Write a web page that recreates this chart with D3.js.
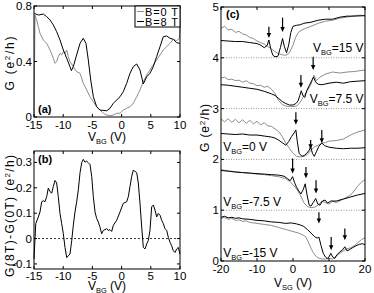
<!DOCTYPE html>
<html>
<head>
<meta charset="utf-8">
<script src="https://cdn.jsdelivr.net/npm/d3@7"></script>
<style>
  body { margin: 0; background: #fff; }
  svg { display: block; font-family: "Liberation Sans", Arial, sans-serif; }
  .tick-label { font-size: 11.5px; }
  .axis-label { font-size: 12px; }
</style>
</head>
<body>
<div id="chart-root"></div>
<script>
// ---- panel (a): G vs V_BG ----
var aTicksX = [-15, -10, -5, 0, 5, 10];
var aTicksY = [0, 0.4, 0.8];
var aGray = [[-15,0],[-14.83,0.735],[-14.54,0.70],[-14.26,0.651],[-13.97,0.603],[-13.4,0.555],[-12.83,0.531],
  [-12.26,0.483],[-11.69,0.423],[-11.4,0.387],[-11.12,0.399],[-10.84,0.435],[-10.55,0.459],[-10.26,0.447],
  [-9.98,0.471],[-9.69,0.459],[-9.4,0.483],[-9.13,0.435],[-8.84,0.399],[-8.27,0.363],[-7.7,0.327],[-7.12,0.315],
  [-6.83,0.279],[-6.56,0.243],[-5.98,0.195],[-5.41,0.146],[-4.84,0.11],[-4.27,0.074],[-3.7,0.05],[-3.13,0.027],
  [-2.55,0.014],[-1.99,0.01],[-1.42,0.014],[-0.84,0.027],[-0.27,0.027],[0.29,0.05],[0.87,0.063],[1.44,0.074],
  [2.0,0.099],[2.59,0.146],[3.15,0.195],[3.72,0.254],[4.3,0.303],[4.86,0.339],[5.43,0.375],[6.0,0.411],
  [6.58,0.447],[7.14,0.483],[7.72,0.507],[8.3,0.531],[8.85,0.56],[9.43,0.55],[9.9,0.567],[10,0.65]];
var aBlack = [[-14.95,0.747],[-14.26,0.735],[-13.4,0.742],[-12.83,0.723],[-12.26,0.70],[-11.69,0.663],
  [-11.12,0.615],[-10.55,0.555],[-9.98,0.483],[-9.4,0.423],[-8.84,0.363],[-8.6,0.334],[-8.27,0.363],
  [-7.7,0.447],[-7.12,0.531],[-6.56,0.567],[-6.1,0.531],[-5.7,0.411],[-5.29,0.267],[-4.84,0.146],
  [-4.27,0.074],[-3.7,0.05],[-2.55,0.045],[-1.99,0.063],[-1.42,0.099],[-0.27,0.146],[0.29,0.182],
  [0.87,0.243],[1.44,0.315],[2.0,0.363],[2.59,0.382],[3.15,0.339],[3.72,0.238],[4.3,0.29],[4.86,0.315],
  [5.43,0.363],[6.0,0.435],[6.58,0.507],[7.14,0.579],[7.72,0.584],[8.3,0.567],[8.85,0.56],[9.43,0.535],[10,0.531]];
var legendNames = ["B=0 T", "B=8 T"];

// ---- panel (b): G(8T)-G(0T) ----
var bTicksY = [-0.1, 0, 0.1, 0.2, 0.3];
var bDiff = [[-15,-0.081],[-14.7,0.059],[-14.26,0.085],[-13.97,0.105],[-13.68,0.145],[-13.4,0.149],[-13.12,0.145],
  [-12.83,0.165],[-12.55,0.199],[-12.26,0.185],[-11.97,0.179],[-11.69,0.205],[-11.4,0.229],[-11.12,0.219],
  [-10.84,0.165],[-10.55,0.099],[-10.26,0.059],[-9.98,0.019],[-9.69,-0.035],[-9.4,-0.075],[-9.13,-0.068],
  [-8.84,-0.061],[-8.54,-0.008],[-8.27,0.052],[-7.98,0.105],[-7.69,0.145],[-7.41,0.192],[-7.12,0.259],
  [-6.83,0.299],[-6.56,0.312],[-6.27,0.301],[-5.98,0.305],[-5.7,0.299],[-5.41,0.292],[-5.12,0.245],
  [-4.84,0.165],[-4.55,0.105],[-4.27,0.079],[-3.99,0.065],[-3.7,0.045],[-3.41,0.019],[-3.13,0.032],
  [-2.55,0.039],[-2.28,0.032],[-1.99,0.035],[-1.7,0.028],[-1.42,0.052],[-0.84,0.072],[-0.27,0.105],
  [0.29,0.139],[0.87,0.145],[1.15,0.165],[1.44,0.205],[1.73,0.245],[2.0,0.269],[2.29,0.265],[2.59,0.259],
  [2.86,0.219],[3.15,0.139],[3.44,0.045],[3.72,-0.035],[4.01,-0.041],[4.3,-0.021],[4.57,-0.008],
  [4.86,0.032],[5.15,0.125],[5.43,0.132],[5.72,0.112],[6.01,0.085],[6.28,0.099],[6.58,0.092],[6.86,0.072],
  [7.14,0.059],[7.43,0.039],[7.72,0.032],[8.0,0.005],[8.3,-0.015],[8.57,-0.028],[8.85,-0.048],
  [9.14,-0.055],[9.43,-0.041],[9.71,-0.035],[10,-0.061]];

// ---- panel (c): G vs V_SG, traces offset by 1 e2/h ----
var cTicksX = [-20, -10, 0, 10, 20];
var cTicksY = [0, 1, 2, 3, 4, 5];
var cBaselines = [1, 2, 3, 4];
var c15Gray = [[-20,4.58],[-19,4.62],[-18,4.55],[-17,4.56],[-16,4.50],[-15,4.52],[-14,4.47],[-13,4.45],[-12,4.40],
  [-11,4.38],[-10,4.33],[-9,4.30],[-8,4.27],[-7,4.22],[-6,4.18],[-5,4.12],[-4,4.08],[-3,4.06],[-2,4.05],[-1,4.10],
  [0,4.25],[0.7,4.4],[1.5,4.5],[2.5,4.55],[3.5,4.58],[5,4.62],[7,4.68],[9,4.72],[11,4.74],[13,4.78],[15,4.80],
  [17,4.83],[19,4.84],[20,4.82]];
var c15Black = [[-20,4.34],[-18,4.33],[-16,4.32],[-14,4.32],[-12,4.30],[-10,4.28],[-9,4.25],[-8,4.20],[-7.2,4.24],
  [-6.7,4.35],[-6.2,4.18],[-5.6,4.05],[-5,4.02],[-4.2,4.03],[-3.5,4.2],[-2.9,4.38],[-2.4,4.22],[-1.8,4.10],
  [-1.2,4.25],[-0.6,4.5],[0,4.62],[1,4.64],[2,4.65],[3,4.68],[5,4.70],[7,4.74],[9,4.76],[11,4.76],[13,4.80],
  [15,4.82],[17,4.82],[20,4.83]];
var c75Gray = [[-20,3.60],[-19,3.62],[-18,3.57],[-17,3.58],[-16,3.55],[-15,3.56],[-14,3.52],[-13,3.55],[-12,3.50],
  [-11,3.49],[-10,3.45],[-9,3.46],[-8,3.42],[-7,3.44],[-6,3.38],[-5,3.30],[-4,3.16],[-3,3.08],[-2,3.05],[-1,3.04],
  [0,3.04],[1,3.05],[2,3.12],[3,3.25],[4,3.35],[5,3.48],[5.8,3.66],[6.5,3.55],[7.5,3.62],[9,3.68],[11,3.72],
  [13,3.70],[15,3.72],[17,3.73],[20,3.76]];
var c75Black = [[-20,3.47],[-18,3.46],[-16,3.44],[-14,3.42],[-12,3.40],[-10,3.38],[-8,3.34],[-6,3.29],[-5,3.26],
  [-4,3.20],[-3,3.14],[-2,3.10],[-1,3.07],[0,3.07],[0.8,3.10],[1.4,3.15],[1.9,3.26],[2.3,3.35],[2.8,3.25],
  [3.3,3.22],[3.8,3.35],[4.5,3.45],[5.2,3.55],[5.7,3.62],[6.3,3.52],[7,3.48],[8,3.47],[10,3.50],[12,3.52],
  [14,3.50],[16,3.53],[18,3.54],[20,3.55]];
var c0Gray = [[-20,2.80],[-19,2.74],[-18,2.80],[-17,2.73],[-16,2.79],[-15,2.72],[-14,2.78],[-13,2.71],[-12,2.77],
  [-11,2.70],[-10,2.75],[-9,2.68],[-8,2.72],[-7,2.66],[-6,2.65],[-5,2.60],[-4,2.55],[-3,2.45],[-2,2.32],[-1,2.22],
  [0,2.12],[1,2.06],[2,2.05],[3,2.06],[4,2.10],[5,2.18],[6,2.25],[7,2.28],[8,2.32],[9,2.33],[10,2.36],[12,2.37],
  [14,2.40],[16,2.48],[18,2.54],[20,2.58]];
var c0Black = [[-20,2.51],[-18,2.50],[-16,2.49],[-14,2.50],[-12,2.48],[-10,2.48],[-8,2.46],[-6,2.44],[-5,2.42],
  [-4,2.38],[-3,2.33],[-2,2.28],[-1.2,2.35],[-0.4,2.45],[0.3,2.52],[0.8,2.58],[1.2,2.35],[1.7,2.12],[2.5,2.06],
  [3.2,2.08],[3.8,2.12],[4.5,2.18],[4.9,2.25],[5.4,2.12],[5.9,2.06],[6.5,2.15],[7.2,2.26],[8,2.32],[8.8,2.27],
  [10,2.24],[12,2.22],[14,2.21],[16,2.22],[18,2.22],[20,2.23]];
var cm75Gray = [[-20,1.80],[-18,1.77],[-16,1.76],[-14,1.74],[-12,1.73],[-10,1.71],[-8,1.70],[-6,1.68],[-4,1.66],
  [-3,1.64],[-2,1.62],[-1,1.57],[0,1.50],[1,1.42],[2,1.30],[3,1.15],[4,1.07],[5,1.05],[6,1.06],[7,1.10],[8,1.18],
  [9,1.15],[10,1.12],[11,1.18],[12,1.15],[14,1.22],[16,1.30],[17,1.38],[18,1.48],[19,1.55],[20,1.60]];
var cm75Black = [[-20,1.78],[-18,1.77],[-16,1.75],[-14,1.74],[-12,1.73],[-10,1.72],[-8,1.71],[-6,1.70],[-4,1.69],
  [-2.5,1.67],[-1.5,1.62],[-0.8,1.58],[-0.1,1.66],[0.4,1.55],[1.0,1.45],[1.6,1.38],[2.2,1.32],[2.8,1.40],
  [3.4,1.52],[3.9,1.30],[4.5,1.10],[5.0,1.08],[5.6,1.15],[6.3,1.23],[6.9,1.12],[7.5,1.10],[8.2,1.18],[8.9,1.20],
  [9.6,1.14],[10.5,1.18],[12,1.18],[14,1.22],[16,1.26],[18,1.30],[20,1.33]];
var cm15Gray = [[-20,0.84],[-19,0.86],[-18,0.82],[-17,0.84],[-16,0.80],[-15,0.81],[-14,0.78],[-13,0.79],[-12,0.76],
  [-10,0.74],[-8,0.72],[-6,0.70],[-4,0.66],[-2,0.62],[0,0.58],[1.5,0.55],[2.5,0.52],[3.5,0.48],[4.2,0.38],
  [5,0.25],[5.6,0.17],[6.3,0.10],[7,0.06],[8,0.04],[9,0.04],[10,0.05],[11,0.04],[12,0.10],[13,0.15],[14,0.20],
  [15,0.24],[16,0.26],[17,0.30],[18,0.36],[19,0.42],[20,0.46]];
var cm15Black = [[-20,0.86],[-19,0.88],[-18,0.85],[-17,0.86],[-16,0.84],[-15,0.85],[-14,0.83],[-12,0.82],[-10,0.80],
  [-8,0.79],[-6,0.77],[-4,0.76],[-2,0.74],[-0.5,0.75],[1,0.73],[2,0.71],[3,0.68],[4,0.62],[5,0.55],[6,0.48],
  [6.7,0.45],[7.2,0.47],[7.8,0.30],[8.4,0.15],[9,0.08],[9.5,0.05],[10,0.08],[10.5,0.15],[11,0.08],[11.6,0.05],
  [12.2,0.12],[13,0.18],[13.8,0.22],[14.4,0.28],[15,0.20],[15.6,0.22],[16.5,0.26],[17.5,0.30],[18.5,0.33],
  [19.3,0.34],[20,0.32]];
// arrows: [V_SG, top G, tip G]
var cArrows = [[-6.7,4.61,4.39],[-2.9,4.79,4.51],[2.2,3.66,3.41],[5.6,4.02,3.76],[0.8,2.93,2.68],[4.9,2.38,2.20],
  [8.0,2.58,2.32],[-0.1,2.02,1.72],[3.6,1.85,1.63],[6.4,1.59,1.33],[7.2,0.96,0.74],[10.6,0.47,0.21],[14.4,0.64,0.41]];
// trace labels: [V_BG text, V_SG pos, G pos, anchor]
var cLabels = [["=15 V",19.6,4.12,"end"],["=7.5 V",19.6,3.11,"end"],["=0 V",-19.4,2.16,"start"],
  ["=-7.5 V",-19.4,1.08,"start"],["=-15 V",-19.4,0.07,"start"]];

var grayCol = "#8c8c8c";

var svg = d3.select("#chart-root").append("svg")
    .attr("width", 374)
    .attr("height", 293);

function boxAxes(g, x, y, w, h, xt, yt, xoff) {
  // MATLAB style box, ticks inward on all four sides
  g.append("rect").attr("x", 0).attr("y", 0).attr("width", w).attr("height", h)
    .attr("fill", "none").attr("stroke", "#000").attr("stroke-width", 1);
  xt.forEach(function(t) {
    g.append("line").attr("x1", x(t)).attr("x2", x(t)).attr("y1", h).attr("y2", h - 3).attr("stroke", "#000");
    g.append("line").attr("x1", x(t)).attr("x2", x(t)).attr("y1", 0).attr("y2", 3).attr("stroke", "#000");
    g.append("text").attr("class", "tick-label").attr("x", x(t)).attr("y", h + xoff)
      .attr("text-anchor", "middle").text(t);
  });
  yt.forEach(function(t) {
    g.append("line").attr("x1", 0).attr("x2", 3).attr("y1", y(t)).attr("y2", y(t)).attr("stroke", "#000");
    g.append("line").attr("x1", w).attr("x2", w - 3).attr("y1", y(t)).attr("y2", y(t)).attr("stroke", "#000");
    g.append("text").attr("class", "tick-label").attr("x", -2).attr("y", y(t) + 4)
      .attr("text-anchor", "end").text(t);
  });
}

function vbgLabel(g, xpos, ypos, sub, tail, anchor, size) {
  var t = g.append("text").attr("x", xpos).attr("y", ypos).attr("text-anchor", anchor || "middle")
    .style("font-size", size + "px");
  t.append("tspan").text("V");
  t.append("tspan").attr("dy", 3).style("font-size", (size * 0.62) + "px").text(sub);
  t.append("tspan").attr("dy", -3).text(tail);
  return t;
}

function gLabel(g, xpos, ypos, head, len) {
  var t = g.append("text").attr("class", "axis-label")
    .attr("transform", "translate(" + xpos + "," + ypos + ") rotate(-90)")
    .attr("text-anchor", "middle").attr("textLength", len).attr("lengthAdjust", "spacing");
  t.append("tspan").text(head + "(e");
  t.append("tspan").attr("dy", -4).style("font-size", "8px").text("2");
  t.append("tspan").attr("dy", 4).text("/h)");
}

// ---- (a)
(function () {
  var left = 34, top = 6, w = 146, h = 111;
  var x = d3.scaleLinear().domain([-15, 10]).range([0, w]);
  var y = d3.scaleLinear().domain([0, 0.8]).range([h, 0]);
  var g = svg.append("g").attr("transform", "translate(" + left + "," + top + ")");
  var line = d3.line().x(function(d) { return x(d[0]); }).y(function(d) { return y(d[1]); });

  g.append("path").datum(aGray).attr("fill", "none").attr("stroke", grayCol).attr("stroke-width", 1).attr("d", line);
  g.append("path").datum(aBlack).attr("fill", "none").attr("stroke", "#000").attr("stroke-width", 1).attr("d", line);
  boxAxes(g, x, y, w, h, aTicksX, aTicksY, 12);

  // legend
  var lg = g.append("g").attr("transform", "translate(" + (w - 45) + ",0)");
  lg.append("rect").attr("width", 45).attr("height", 21).attr("fill", "#fff").attr("stroke", "#000");
  legendNames.forEach(function(n, i) {
    lg.append("line").attr("x1", 2).attr("x2", 9).attr("y1", 5.5 + i * 10).attr("y2", 5.5 + i * 10)
      .attr("stroke", i === 0 ? grayCol : "#000");
    lg.append("text").attr("x", 10).attr("y", 9.5 + i * 10).style("font-size", "11px")
      .attr("textLength", 33).attr("lengthAdjust", "spacing").text(n);
  });

  g.append("text").attr("x", 4).attr("y", h - 4).style("font-size", "11px").style("font-weight", "bold").text("(a)");
  vbgLabel(g, w / 2, h + 24, "BG", " (V)", "middle", 12);
  gLabel(g, -20, h / 2 + 2, "G ", 54);
})();

// ---- (b)
(function () {
  var left = 34, top = 151, w = 146, h = 118;
  var x = d3.scaleLinear().domain([-15, 10]).range([0, w]);
  var y = d3.scaleLinear().domain([-0.12, 0.345]).range([h, 0]);
  var g = svg.append("g").attr("transform", "translate(" + left + "," + top + ")");
  var line = d3.line().x(function(d) { return x(d[0]); }).y(function(d) { return y(d[1]); });

  g.append("line").attr("x1", 0).attr("x2", w).attr("y1", y(0)).attr("y2", y(0))
    .attr("stroke", "#000").attr("stroke-width", 0.8).attr("stroke-dasharray", "2,2");
  g.append("path").datum(bDiff).attr("fill", "none").attr("stroke", "#000").attr("stroke-width", 1).attr("d", line);
  boxAxes(g, x, y, w, h, aTicksX, bTicksY, 10.5);

  g.append("text").attr("x", 4).attr("y", 12).style("font-size", "11px").style("font-weight", "bold").text("(b)");
  vbgLabel(g, w / 2, h + 20.5, "BG", " (V)", "middle", 12);
  gLabel(g, -20, h / 2 + 6, "G(8T)-G(0T) ", 122);
})();

// ---- (c)
(function () {
  var left = 221, top = 7, w = 144, h = 254;
  var x = d3.scaleLinear().domain([-20, 20]).range([0, w]);
  var y = d3.scaleLinear().domain([0, 5]).range([h, 0]);
  var g = svg.append("g").attr("transform", "translate(" + left + "," + top + ")");
  var line = d3.line().x(function(d) { return x(d[0]); }).y(function(d) { return y(d[1]); });

  g.selectAll(".base").data(cBaselines).enter().append("line")
    .attr("x1", 0).attr("x2", w).attr("y1", function(d) { return y(d); }).attr("y2", function(d) { return y(d); })
    .attr("stroke", "#777").attr("stroke-width", 0.8).attr("stroke-dasharray", "1,1.5");

  [c15Gray, c75Gray, c0Gray, cm75Gray, cm15Gray].forEach(function(s) {
    g.append("path").datum(s).attr("fill", "none").attr("stroke", grayCol).attr("stroke-width", 1).attr("d", line);
  });
  [c15Black, c75Black, c0Black, cm75Black, cm15Black].forEach(function(s) {
    g.append("path").datum(s).attr("fill", "none").attr("stroke", "#000").attr("stroke-width", 1).attr("d", line);
  });

  cArrows.forEach(function(a) {
    var ax = x(a[0]), y0 = y(a[1]), y1 = y(a[2]);
    g.append("line").attr("x1", ax).attr("x2", ax).attr("y1", y0).attr("y2", y1 - 4)
      .attr("stroke", "#000").attr("stroke-width", 1.2);
    g.append("path").attr("d", "M" + (ax - 2.2) + "," + (y1 - 5) + "L" + (ax + 2.2) + "," + (y1 - 5) + "L" + ax + "," + y1 + "Z")
      .attr("fill", "#000");
  });

  cLabels.forEach(function(l) {
    vbgLabel(g, x(l[1]), y(l[2]), "BG", l[0], l[3], 12);
  });

  boxAxes(g, x, y, w, h, cTicksX, cTicksY, 12);
  g.append("text").attr("x", 5).attr("y", 11).style("font-size", "11px").style("font-weight", "bold").text("(c)");
  vbgLabel(g, w / 2, h + 26, "SG", " (V)", "middle", 12);
  gLabel(g, -12, h / 2 - 6, "G ", 48);
})();
</script>
</body>
</html>
